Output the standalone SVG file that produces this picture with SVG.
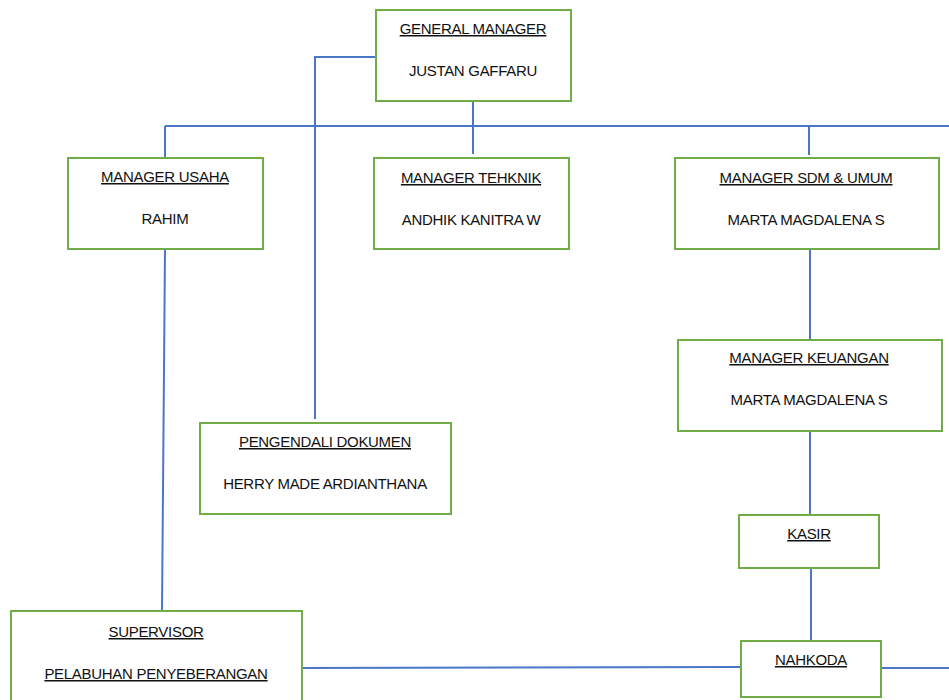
<svg xmlns="http://www.w3.org/2000/svg" width="949" height="700" viewBox="0 0 949 700">
<style>
.box{fill:#fff;stroke:#70ad47;stroke-width:2}
.ln{fill:none;stroke:#4a76c8;stroke-width:2}
text{font-family:"Liberation Sans",Arial,sans-serif;font-size:15px;fill:#111;text-anchor:middle;letter-spacing:-0.3px}
.u{text-decoration:underline}
</style>
<rect width="949" height="700" fill="#fff"/>
<g id="connectors">
<polyline class="ln" points="376,57 315,57 315,419"/>
<line class="ln" x1="473" y1="101" x2="473" y2="126"/>
<line class="ln" x1="165" y1="126" x2="949" y2="126"/>
<line class="ln" x1="165" y1="126" x2="165" y2="158"/>
<line class="ln" x1="473" y1="126" x2="473" y2="154"/>
<line class="ln" x1="809" y1="126" x2="809" y2="155"/>
<line class="ln" x1="165" y1="249" x2="162" y2="611"/>
<line class="ln" x1="810" y1="249" x2="810" y2="340"/>
<line class="ln" x1="810" y1="431" x2="810" y2="515"/>
<line class="ln" x1="811" y1="568" x2="811" y2="641"/>
<line class="ln" x1="302" y1="668" x2="741" y2="667"/>
<line class="ln" x1="881" y1="668" x2="949" y2="668"/>
</g>
<g id="general-manager">
<rect class="box" x="376" y="10" width="195" height="91"/>
<text class="u" x="473" y="34">GENERAL MANAGER</text>
<text x="473" y="76">JUSTAN GAFFARU</text>
</g>
<g id="manager-usaha">
<rect class="box" x="68" y="158" width="195" height="91"/>
<text class="u" x="165" y="182">MANAGER USAHA</text>
<text x="165" y="224">RAHIM</text>
</g>
<g id="manager-tehknik">
<rect class="box" x="374" y="158" width="195" height="91"/>
<text class="u" x="471" y="183">MANAGER TEHKNIK</text>
<text x="471" y="225">ANDHIK KANITRA W</text>
</g>
<g id="manager-sdm">
<rect class="box" x="675" y="158" width="264" height="91"/>
<text class="u" x="806" y="183">MANAGER SDM &amp; UMUM</text>
<text x="806" y="225">MARTA MAGDALENA S</text>
</g>
<g id="manager-keuangan">
<rect class="box" x="678" y="340" width="264" height="91"/>
<text class="u" x="809" y="363">MANAGER KEUANGAN</text>
<text x="809" y="405">MARTA MAGDALENA S</text>
</g>
<g id="pengendali-dokumen">
<rect class="box" x="200" y="423" width="251" height="91"/>
<text class="u" x="325" y="447">PENGENDALI DOKUMEN</text>
<text x="325" y="489">HERRY MADE ARDIANTHANA</text>
</g>
<g id="kasir">
<rect class="box" x="739" y="515" width="140" height="53"/>
<text class="u" x="809" y="539">KASIR</text>
</g>
<g id="supervisor">
<rect class="box" x="11" y="611" width="291" height="100"/>
<text class="u" x="156" y="637">SUPERVISOR</text>
<text class="u" x="156" y="679">PELABUHAN PENYEBERANGAN</text>
</g>
<g id="nahkoda">
<rect class="box" x="741" y="641" width="140" height="56"/>
<text class="u" x="811" y="665">NAHKODA</text>
</g>
</svg>
